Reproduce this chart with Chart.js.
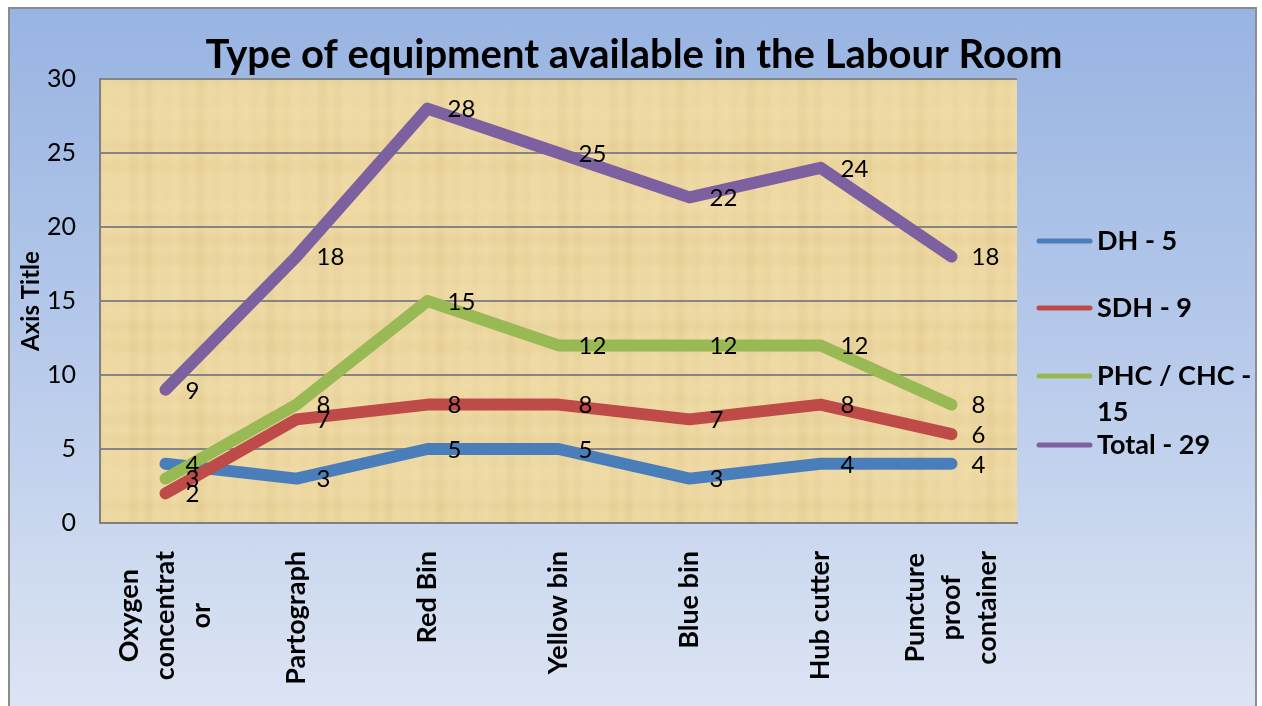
<!DOCTYPE html>
<html>
<head>
<meta charset="utf-8">
<script src="https://cdn.jsdelivr.net/npm/chart.js@4/dist/chart.umd.min.js"></script>
<style>
  html, body { margin: 0; padding: 0; background: #fff; }
  #frame {
    position: absolute; left: 8px; top: 7px; width: 1249px; height: 710px;
    border: 2px solid #8c8c8c; box-sizing: border-box;
    background: linear-gradient(to bottom, #98b4e2 0%, #b4c8ea 45%, #dde5f3 100%);
  }
  #chart { position: absolute; left: 0; top: 0; }
</style>
</head>
<body>
<div id="frame"></div>
<canvas id="chart" width="1262" height="706"></canvas>
<script>
const chartTitle = 'Type of equipment available in the Labour Room';
const yAxisTitle = 'Axis Title';
const categories = [
  ['Oxygen', 'concentrat', 'or'],
  ['Partograph'],
  ['Red Bin'],
  ['Yellow bin'],
  ['Blue bin'],
  ['Hub cutter'],
  ['Puncture', 'proof', 'container'],
];
const dhValues = [4, 3, 5, 5, 3, 4, 4];
const sdhValues = [2, 7, 8, 8, 7, 8, 6];
const phcValues = [3, 8, 15, 12, 12, 12, 8];
const totalValues = [9, 18, 28, 25, 22, 24, 18];
const yTicks = [0, 5, 10, 15, 20, 25, 30];

const seriesNames = ['DH - 5', 'SDH - 9', 'PHC / CHC - 15', 'Total - 29'];
const seriesColors = ['#4a7ebb', '#be4b48', '#98b954', '#7d60a0'];
// legend text as drawn (wrapped like the original)
const legendLines = [['DH - 5'], ['SDH - 9'], ['PHC / CHC -', '15'], ['Total - 29']];
const legendY = [241, 308, 376, 445];

function paperPattern(ctx) {
  const c = document.createElement('canvas');
  c.width = 240; c.height = 180;
  const g = c.getContext('2d');
  g.fillStyle = '#eed8a2';
  g.fillRect(0, 0, c.width, c.height);
  for (let x = 0; x < c.width; x += 2) {
    const a = 0.05 * (Math.sin(x * 0.37) + Math.sin(x * 0.113 + 1.3));
    g.fillStyle = a > 0 ? 'rgba(255,240,200,' + a + ')' : 'rgba(190,160,90,' + (-a) + ')';
    g.fillRect(x, 0, 2, c.height);
  }
  for (let y = 0; y < c.height; y += 2) {
    const a = 0.04 * (Math.sin(y * 0.29 + 0.5) + Math.sin(y * 0.071));
    g.fillStyle = a > 0 ? 'rgba(255,240,200,' + a + ')' : 'rgba(190,160,90,' + (-a) + ')';
    g.fillRect(0, y, c.width, 2);
  }
  return ctx.createPattern(c, 'repeat');
}

const decorPlugin = {
  id: 'decor',
  beforeDraw(chart) {
    const { ctx, chartArea: a } = chart;
    ctx.save();
    ctx.fillStyle = paperPattern(ctx);
    ctx.fillRect(a.left, a.top, a.right - a.left, a.bottom - a.top);
    ctx.restore();
  },
  afterDatasetsDraw(chart) {
    const { ctx } = chart;
    ctx.save();
    ctx.font = '24px Lato';
    ctx.fillStyle = '#000';
    ctx.textAlign = 'left';
    ctx.textBaseline = 'middle';
    chart.data.datasets.forEach((ds, i) => {
      const meta = chart.getDatasetMeta(i);
      meta.data.forEach((pt, j) => {
        ctx.fillText(String(ds.data[j]), pt.x + 20, pt.y + 1);
      });
    });
    ctx.restore();
  },
  afterDraw(chart) {
    const { ctx, scales } = chart;
    ctx.save();
    // title
    ctx.fillStyle = '#000';
    ctx.font = 'bold 40px Lato';
    ctx.textAlign = 'center';
    ctx.textBaseline = 'middle';
    ctx.fillText(chartTitle, 634, 55);

    // y axis title
    ctx.save();
    ctx.translate(31, 301);
    ctx.rotate(-Math.PI / 2);
    ctx.font = 'bold 24px Lato';
    ctx.fillText(yAxisTitle, 0, 0);
    ctx.restore();

    // category labels, rotated, lines centred within the block
    ctx.font = 'bold 27px Lato';
    categories.forEach((lines, i) => {
      const x = scales.x.getPixelForValue(i);
      const maxW = Math.max(...lines.map(l => ctx.measureText(l).width));
      ctx.save();
      ctx.translate(x, 551);
      ctx.rotate(-Math.PI / 2);
      ctx.textAlign = 'center';
      lines.forEach((l, k) => {
        ctx.fillText(l, -maxW / 2, (k - (lines.length - 1) / 2) * 36);
      });
      ctx.restore();
    });

    // legend
    ctx.font = 'bold 27px Lato';
    ctx.textAlign = 'left';
    legendLines.forEach((lines, i) => {
      const y = legendY[i];
      ctx.strokeStyle = seriesColors[i];
      ctx.lineWidth = 5;
      ctx.lineCap = 'round';
      ctx.beginPath();
      ctx.moveTo(1039, y);
      ctx.lineTo(1090, y);
      ctx.stroke();
      lines.forEach((l, k) => ctx.fillText(l, 1097, y + k * 36));
    });
    ctx.restore();
  },
};

const seriesValues = [dhValues, sdhValues, phcValues, totalValues];
const datasets = seriesValues.map((vals, i) => ({
  label: seriesNames[i],
  data: vals,
  borderColor: seriesColors[i],
  backgroundColor: seriesColors[i],
  borderWidth: 12,
  borderCapStyle: 'round',
  borderJoinStyle: 'round',
  pointRadius: 0,
  tension: 0,
  order: 4 - i,
}));

new Chart(document.getElementById('chart'), {
  type: 'line',
  data: { labels: categories.map(c => c.join(' ')), datasets },
  options: {
    responsive: false,
    animation: false,
    layout: { padding: { top: 79, right: 245, bottom: 0, left: 0 } },
    plugins: {
      legend: { display: false },
      title: { display: false },
      tooltip: { enabled: false },
    },
    scales: {
      x: {
        offset: true,
        grid: { display: false },
        ticks: { display: false },
        border: { display: true, color: '#808080', width: 2 },
        afterFit: s => { s.height = 183; },
      },
      y: {
        min: 0,
        max: 30,
        afterBuildTicks: s => { s.ticks = yTicks.map(v => ({ value: v })); },
        grid: { color: '#858585', lineWidth: 2, drawTicks: false },
        border: { display: true, color: '#808080', width: 2 },
        ticks: { color: '#000', font: { family: 'Lato', size: 25 }, padding: 24 },
        afterFit: s => { s.width = 100; },
      },
    },
  },
  plugins: [decorPlugin],
});
</script>
</body>
</html>
